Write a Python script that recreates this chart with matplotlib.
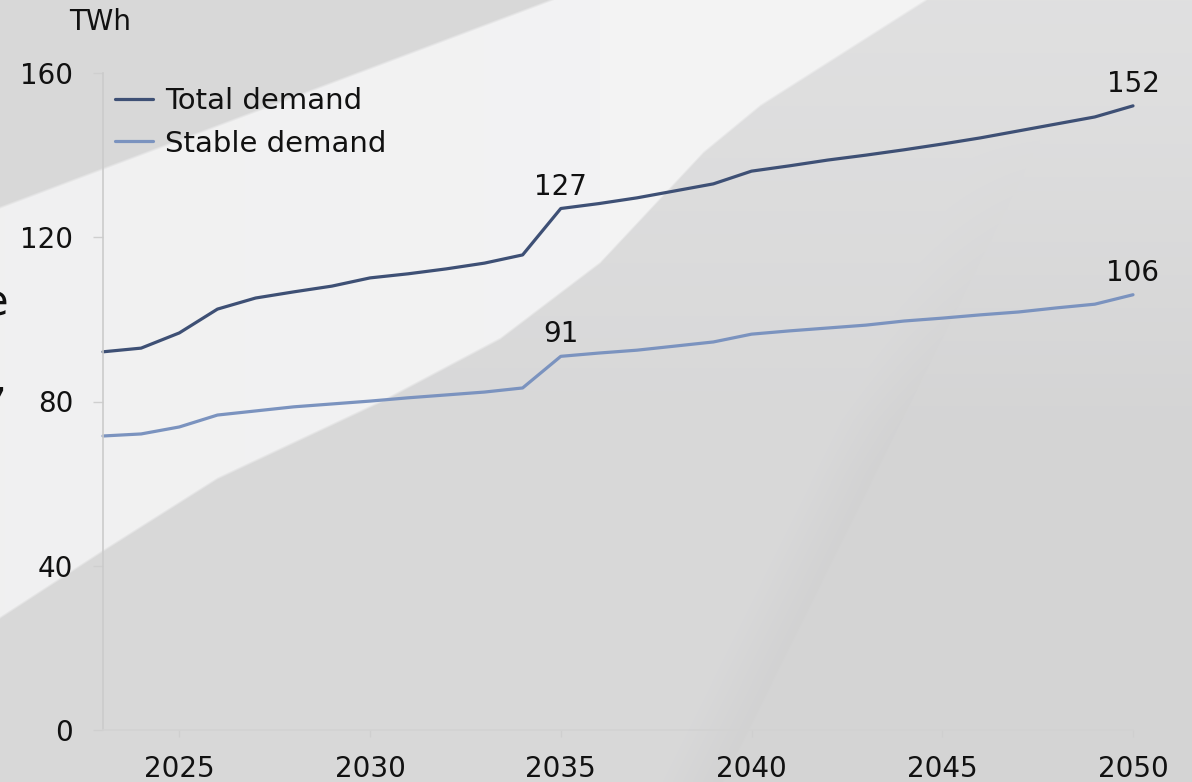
import matplotlib
matplotlib.use("Agg")
import matplotlib.pyplot as plt
import numpy as np

# --- data -------------------------------------------------------------
years = list(range(2023, 2051))
total_demand = [92.1, 93.0, 96.7, 102.5, 105.2, 106.7, 108.1, 110.1, 111.1,
                112.3, 113.7, 115.7, 127.0, 128.2, 129.6, 131.3, 133.0, 136.1,
                137.4, 138.8, 140.0, 141.3, 142.7, 144.2, 145.9, 147.6, 149.3,
                152.0]
stable_demand = [71.6, 72.1, 73.8, 76.7, 77.7, 78.7, 79.4, 80.1, 80.9, 81.6,
                 82.3, 83.3, 91.0, 91.8, 92.5, 93.5, 94.5, 96.4, 97.2, 97.9,
                 98.6, 99.6, 100.3, 101.1, 101.8, 102.8, 103.7, 106.0]
series_names = ["Total demand", "Stable demand"]
labelled_years = [2035, 2050]
x_ticks = [2025, 2030, 2035, 2040, 2045, 2050]
y_ticks = [0, 40, 80, 120, 160]
unit = "TWh"

# --- figure -----------------------------------------------------------
W, H = 1192, 782
fig = plt.figure(figsize=(W / 100, H / 100), dpi=100)
plt.rcParams["font.family"] = ["DejaVu Sans"]
FS = 20
TXT = "#111111"

# decorative slide background: folded grey paper, built per pixel
yy, xx = np.mgrid[0:H, 0:W].astype(float)
img = np.full((H, W), 240.5)
img += 2.5 * np.clip(xx / 600.0, 0, 1)


def soft(d, w=1.5):
    return np.clip(0.5 + d / (2 * w), 0, 1)


# grey wedge in the upper left
edge_a = 207.0 - xx * (207.0 / 550.0)
img = img * (1 - soft(edge_a - yy)) + 216.0 * soft(edge_a - yy)

# large grey panel below the diagonal fold, lighter towards the top
bx = [0, 100, 217, 383, 500, 600, 703, 760, 925, 1300]
by = [617, 552, 478, 400, 338, 262, 152, 105, 0, -300]
edge_b = np.interp(xx, bx, by)
m_b = soft(yy - edge_b)
panel = 216.0 + 8.0 * np.clip((420.0 - yy) / 420.0, 0, 1)
# faint crease running up the lower right
x_l = 722.0 + (782.0 - yy) * 0.495
d = xx - x_l
fade = np.clip((yy - 120.0) / 350.0, 0, 1)
right_side = panel - 4.0 * fade
shadow = panel - 6.0 * np.clip(1 + d / 60.0, 0, 1) * fade
panel = np.where(d > 0, right_side * soft(d) + shadow * (1 - soft(d)), shadow)
img = img * (1 - m_b) + panel * m_b
img = np.clip(img, 0, 255) / 255.0

bg = fig.add_axes([0, 0, 1, 1], zorder=-5)
bg.imshow(np.dstack([img, img, img * 1.002]).clip(0, 1), extent=[0, W, H, 0],
          interpolation="bilinear", aspect="auto")
bg.set_xlim(0, W)
bg.set_ylim(H, 0)
bg.axis("off")

# clipped text from the neighbouring slide column
fig.text(8 / W, 1 - 315 / H, "e", fontsize=30, color=TXT,
         ha="right", va="baseline")
fig.text(7 / W, 1 - 392 / H, ",", fontsize=30, color=TXT,
         ha="right", va="baseline")

# --- chart ------------------------------------------------------------
left, right, top, bottom = 103, 1133, 73, 730
ax = fig.add_axes([left / W, 1 - bottom / H, (right - left) / W,
                   (bottom - top) / H])
ax.set_facecolor("none")

colors = ["#3e5075", "#7b93bf"]
for vals, name, c in zip([total_demand, stable_demand], series_names, colors):
    ax.plot(years, vals, color=c, lw=2.3, label=name,
            solid_joinstyle="round", solid_capstyle="round", clip_on=False)
    for yr in labelled_years:
        v = vals[years.index(yr)]
        ax.annotate(f"{v:.0f}", (yr, v), xytext=(0, 10),
                    textcoords="offset points", ha="center", va="baseline",
                    fontsize=FS, color=TXT)

ax.set_xlim(years[0], years[-1])
ax.set_ylim(y_ticks[0], y_ticks[-1])
ax.set_xticks(x_ticks)
ax.set_yticks(y_ticks)
ax.tick_params(axis="x", length=5, width=1, color="#cfcfcf", pad=13,
               labelsize=FS, labelcolor=TXT)
ax.tick_params(axis="y", length=7.5, width=1, color="#cfcfcf", pad=14,
               labelsize=FS, labelcolor=TXT)
for s in ("top", "right"):
    ax.spines[s].set_visible(False)
ax.spines["left"].set_color("#cbcbcb")
ax.spines["bottom"].set_color("#d2d2d2")
ax.spines["left"].set_linewidth(1.2)
ax.spines["bottom"].set_linewidth(1.2)

fig.text(69 / W, 1 - 30 / H, unit, fontsize=FS, color=TXT,
         ha="left", va="baseline")

ax.legend(loc="upper left", bbox_to_anchor=(115 / W, 1 - 87 / H),
          bbox_transform=fig.transFigure, frameon=False, fontsize=21,
          handlelength=1.3, handletextpad=0.42, labelspacing=0.5,
          borderpad=0, borderaxespad=0, labelcolor=TXT)

fig.savefig("out.png", dpi=100)
